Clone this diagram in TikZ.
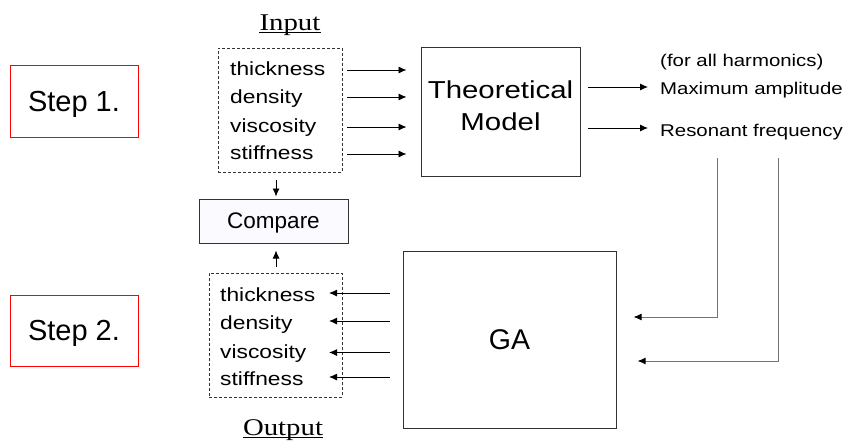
\documentclass[tikz,border=0pt]{standalone}
\usepackage{fontspec}
\setmainfont{Liberation Sans}
\newfontfamily\wsans[FakeStretch=1.2]{Liberation Sans}
\newfontfamily\wserif[FakeStretch=1.2]{Liberation Serif}
\usetikzlibrary{arrows.meta}

\tikzset{
  box/.style={draw=black!80, line width=1pt, inner sep=0pt, text depth=0pt},
  stepbox/.style={draw=red, line width=1pt, minimum width=128pt, minimum height=71pt,
    inner sep=0pt, text depth=0pt, font=\fontsize{29}{33}\selectfont},
  dashbox/.style={draw=black!80, line width=0.9pt, dash pattern=on 3pt off 2pt, inner sep=0pt},
  word/.style={anchor=base west, inner sep=0pt, font=\wsans\fontsize{19}{22}\selectfont},
  result/.style={anchor=base west, inner sep=0pt, font=\wsans\fontsize{17}{20}\selectfont},
  heading/.style={anchor=base, inner sep=0pt, font=\wserif\fontsize{24}{28}\selectfont},
  arr/.style={-{Latex[length=8pt,width=7pt]}, line width=0.9pt, black},
  feed/.style={-{Latex[length=8pt,width=7pt,color=black]}, line width=1pt, black!55},
}

\begin{document}
\begin{tikzpicture}[x=1pt, y=-1pt]
\useasboundingbox (0,0) rectangle (845,441);

% step markers
\node[stepbox] (s1) at (74,101.5) {Step 1.};
\node[stepbox] (s2) at (74,330.5) {Step 2.};

% input parameters
\node[heading] (inp) at (290,30.7) {Input};
\draw[line width=0.8pt] ([yshift=-2pt]inp.base west) -- ([yshift=-2pt]inp.base east);
\node[dashbox, minimum width=124pt, minimum height=124pt] (inbox) at (280,110) {};
\node[word] (i1) at (230,76) {thickness};
\node[word] (i2) at (230,104) {density};
\node[word] (i3) at (230,132.5) {viscosity};
\node[word] (i4) at (230,159.5) {stiffness};

% theoretical model
\node[box, minimum width=159pt, minimum height=128pt] (thm) at (500.5,112) {};
\node[align=center, inner sep=0pt, font=\wsans\fontsize{24.5}{31.7}\selectfont]
  (thmtxt) at ([yshift=6pt]thm.center) {Theoretical\\Model};

\foreach \y/\n in {70/1, 97/2, 127/3, 154/4} {
  \coordinate (ia\n) at (347,\y);
  \draw[arr, shorten >=14pt] (ia\n) -- (ia\n -| thm.west);
}

% model outputs
\node[result] (harm) at (660,66.5) {(for all harmonics)};
\node[result] (amp) at (660,95) {Maximum amplitude};
\node[result] (freq) at (660,136) {Resonant frequency};
\coordinate (r1) at (648,87);
\coordinate (r2) at (648,128);
\draw[arr, shorten <=7pt] (thm.east |- r1) -- (r1);
\draw[arr, shorten <=7pt] (thm.east |- r2) -- (r2);

% compare
\node[box, fill=blue!2, minimum width=149pt, minimum height=44pt,
  font=\fontsize{22.5}{26}\selectfont] (cmp) at (273.5,221) {Compare};

% GA
\node[box, minimum width=213pt, minimum height=177pt,
  font=\fontsize{28.5}{32}\selectfont] (ga) at (509.5,339.5) {GA};

% feedback of the outputs into GA
\coordinate (d1) at (717,158);
\coordinate (d2) at (778,158);
\draw[feed, shorten >=17pt] (d1) |- ([yshift=22.5pt]ga.east);
\draw[feed, shorten >=21pt] (d2) |- ([yshift=-21.5pt]ga.east);

% output parameters
\node[dashbox, minimum width=133pt, minimum height=124pt] (outbox) at (275.5,335) {};
\node[word] (o1) at (220,301) {thickness};
\node[word] (o2) at (220,329) {density};
\node[word] (o3) at (220,358) {viscosity};
\node[word] (o4) at (220,385) {stiffness};
\node[heading] (outp) at (283,435) {Output};
\draw[line width=0.8pt] ([yshift=-2pt]outp.base west) -- ([yshift=-2pt]outp.base east);

\foreach \y/\n in {293/1, 321/2, 352.5/3, 377/4} {
  \coordinate (oa\n) at (329,\y);
  \draw[arr, shorten <=13pt] (ga.west |- oa\n) -- (oa\n);
}

% links to the comparison
\draw[arr, shorten <=8pt, shorten >=2pt] ([xshift=2.5pt]cmp.north |- inbox.south) -- ([xshift=2.5pt]cmp.north);
\draw[arr, shorten <=6pt, shorten >=7pt] ([xshift=2.5pt]cmp.south |- outbox.north) -- ([xshift=2.5pt]cmp.south);
\end{tikzpicture}
\end{document}
